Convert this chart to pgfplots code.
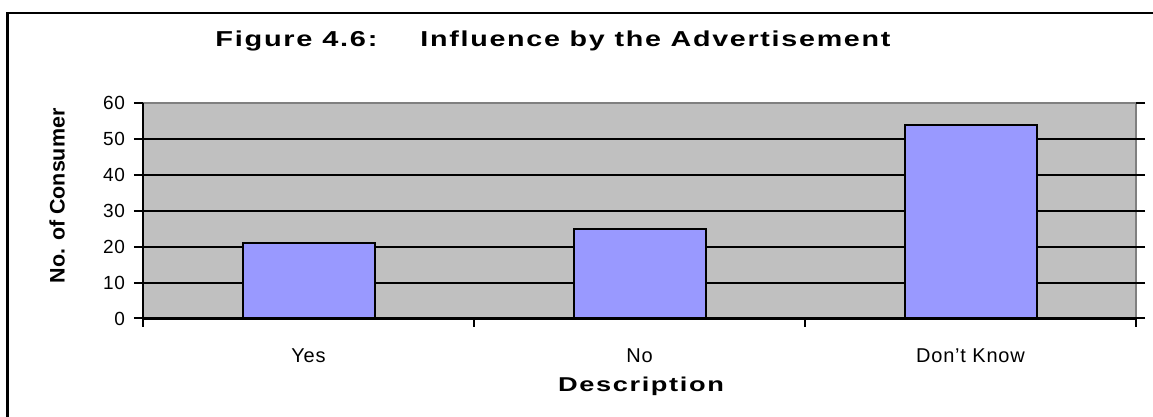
\documentclass[border=0pt]{standalone}
\usepackage{pgfplots}
\pgfplotsset{compat=1.18}
\usepackage{fontspec}
\setmainfont{Liberation Sans}
\definecolor{plotbg}{HTML}{C0C0C0}
\definecolor{barfill}{HTML}{9999FF}
\begin{document}
\begin{tikzpicture}
\useasboundingbox (0,0) rectangle (576.5pt,208.5pt);
\draw[line width=1.2pt] (3.75pt,-2pt) -- (3.75pt,202pt) -- (580pt,202pt);
\begin{axis}[
  at={(71.5pt,49.25pt)}, anchor=south west,
  scale only axis, width=496.5pt, height=107.75pt,
  xmin=0.5, xmax=3.5, ymin=0, ymax=60,
  xtick={1,2,3}, xticklabels={Yes,No,Don't Know},
  ytick={0,10,...,50}, extra y ticks={60},
  extra y tick style={grid=none},
  xtick style={draw=none},
  major tick length=4.5pt,
  ytick style={black, line width=1pt},
  tick align=outside,
  ymajorgrids, major grid style={black, line width=1pt},
  axis line style={draw=none},
  axis background/.style={fill=plotbg, draw=gray, line width=1pt},
  yticklabel style={font=\fontsize{9.5}{10}\selectfont\addfontfeatures{LetterSpace=4}, xshift=-1pt},
  xticklabel style={font=\fontsize{10}{11}\selectfont\addfontfeatures{LetterSpace=4}, anchor=base, yshift=-17.75pt},
  /pgf/number format/assume math mode=true,
  after end axis/.code={
    \draw[black, line width=1.2pt] (rel axis cs:0,1) -- (rel axis cs:0,0) -- (rel axis cs:1,0);
    \foreach \t in {0.5,1.5,2.5,3.5} {\draw[black, line width=1pt] (axis cs:\t,0) -- ++(0,-4.5pt);}
  },
]
\addplot[ybar, bar width=66pt, fill=barfill, draw=black, line width=1pt] coordinates {(1,21) (2,25) (3,54)};
\end{axis}
\node[font=\bfseries\fontsize{10.8}{12}\selectfont\addfontfeatures{LetterSpace=6}, anchor=base west, inner sep=0pt] at (107.5pt,185pt) {\resizebox{81pt}{\height}{Figure 4.6:}};
\node[font=\bfseries\fontsize{10.8}{12}\selectfont\addfontfeatures{LetterSpace=6}, anchor=base west, inner sep=0pt] at (210pt,185pt) {\resizebox{235pt}{\height}{Influence by the Advertisement}};
\node[font=\bfseries\fontsize{10.5}{11}\selectfont, rotate=90, inner sep=0pt] at (28.5pt,110.5pt) {\resizebox{87.5pt}{\height}{No. of Consumer}};
\node[font=\bfseries\fontsize{10}{12}\selectfont\addfontfeatures{LetterSpace=6}, anchor=base, inner sep=0pt] at (320.5pt,12.5pt) {\resizebox{83pt}{\height}{Description}};
\end{tikzpicture}
\end{document}
